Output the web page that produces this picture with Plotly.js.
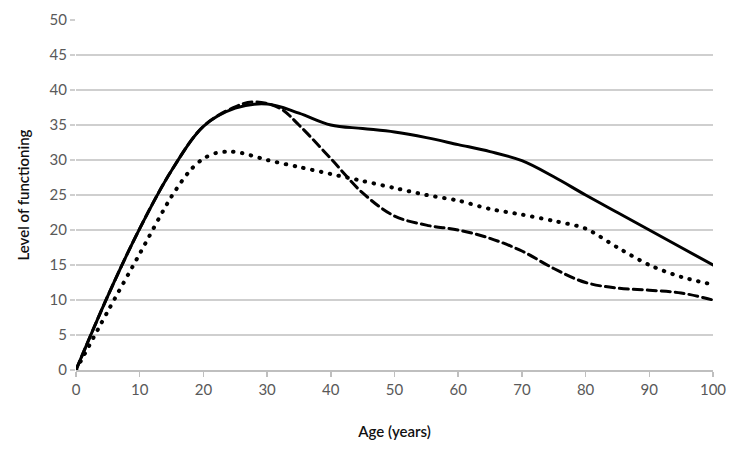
<!DOCTYPE html>
<html>
<head>
<meta charset="utf-8">
<script src="https://cdn.plot.ly/plotly-3.0.1.min.js"></script>
<style>html,body{margin:0;padding:0;background:#fff;}#chart{width:742px;height:468px;}</style>
</head>
<body>
<div id="chart"></div>
<script>
// Age (years) and level of functioning for the three curves
const solidAge   = [0, 5, 10, 15, 20, 25, 30, 35, 40, 45, 50, 55, 60, 65, 70, 75, 80, 85, 90, 95, 100];
const solidLevel = [0, 10.6, 20.2, 28.5, 34.8, 37.4, 38, 36.7, 35, 34.5, 34, 33.2, 32.2, 31.2, 29.9, 27.6, 25, 22.5, 20, 17.5, 15];

const dashAge   = [0, 5, 10, 15, 20, 25, 28, 32, 35, 40, 45, 50, 55, 60, 65, 70, 75, 80, 85, 90, 95, 100];
const dashLevel = [0, 10.6, 20.2, 28.5, 34.8, 37.6, 38.3, 37.4, 35, 30.2, 25.3, 22, 20.7, 20, 18.8, 17, 14.5, 12.5, 11.7, 11.4, 11, 10];

const dotAge   = [0, 5, 10, 15, 18, 20, 22, 24, 26, 30, 35, 40, 45, 50, 55, 60, 65, 70, 75, 80, 85, 90, 95, 100];
const dotLevel = [0, 8.4, 16.6, 24.8, 28.6, 30.2, 31, 31.2, 31, 30, 29, 28, 27, 26, 25, 24.2, 23, 22.2, 21.3, 20.2, 17.5, 15, 13.3, 12.2];

const xTicks = [0, 10, 20, 30, 40, 50, 60, 70, 80, 90, 100];
const yTicks = [0, 5, 10, 15, 20, 25, 30, 35, 40, 45, 50];

const traces = [
  {x: dotAge, y: dotLevel, mode: 'lines', line: {color: '#000', width: 4, dash: '0.5px,8.5px', shape: 'spline', smoothing: 0.8}, hoverinfo: 'skip'},
  {x: dashAge, y: dashLevel, mode: 'lines', line: {color: '#000', width: 3, dash: '9px,5px', shape: 'spline', smoothing: 1}, hoverinfo: 'skip'},
  {x: solidAge, y: solidLevel, mode: 'lines', line: {color: '#000', width: 3, shape: 'spline', smoothing: 1}, hoverinfo: 'skip'}
];

const fam = 'Lato, "Open Sans", sans-serif';

const layout = {
  width: 742, height: 468,
  margin: {l: 76, r: 29, t: 20, b: 98},
  paper_bgcolor: '#fff', plot_bgcolor: '#fff',
  showlegend: false,
  font: {family: fam, size: 15, color: '#595959'},
  xaxis: {
    range: [0, 100], tickvals: xTicks, ticktext: xTicks.map(String),
    showgrid: false, zeroline: false,
    showline: true, linecolor: '#bfbfbf', linewidth: 1.5,
    ticks: 'outside', ticklen: 5, tickcolor: '#bfbfbf', tickwidth: 1.5,
    tickfont: {family: fam, size: 15, color: '#595959'},
    title: {text: 'Age (years)', font: {family: fam, size: 15, color: '#111', weight: 600}, standoff: 30}
  },
  yaxis: {
    range: [0, 50], tickvals: yTicks, ticktext: yTicks.map(String),
    showgrid: true, gridcolor: '#cfcfcf', gridwidth: 1.5, zeroline: false,
    showline: false,
    ticks: 'outside', ticklen: 5, tickcolor: '#cfcfcf', tickwidth: 1.5,
    tickfont: {family: fam, size: 15, color: '#595959'},
    title: {text: 'Level of functioning', font: {family: fam, size: 15, color: '#111', weight: 600}, standoff: 16}
  }
};

Plotly.newPlot('chart', traces, layout, {displayModeBar: false, staticPlot: true}).then(function () {
  // round line caps so the dotted curve is drawn with round dots
  document.querySelectorAll('.scatterlayer .js-line').forEach(function (p) {
    p.style.strokeLinecap = 'round';
  });
});
</script>
</body>
</html>
